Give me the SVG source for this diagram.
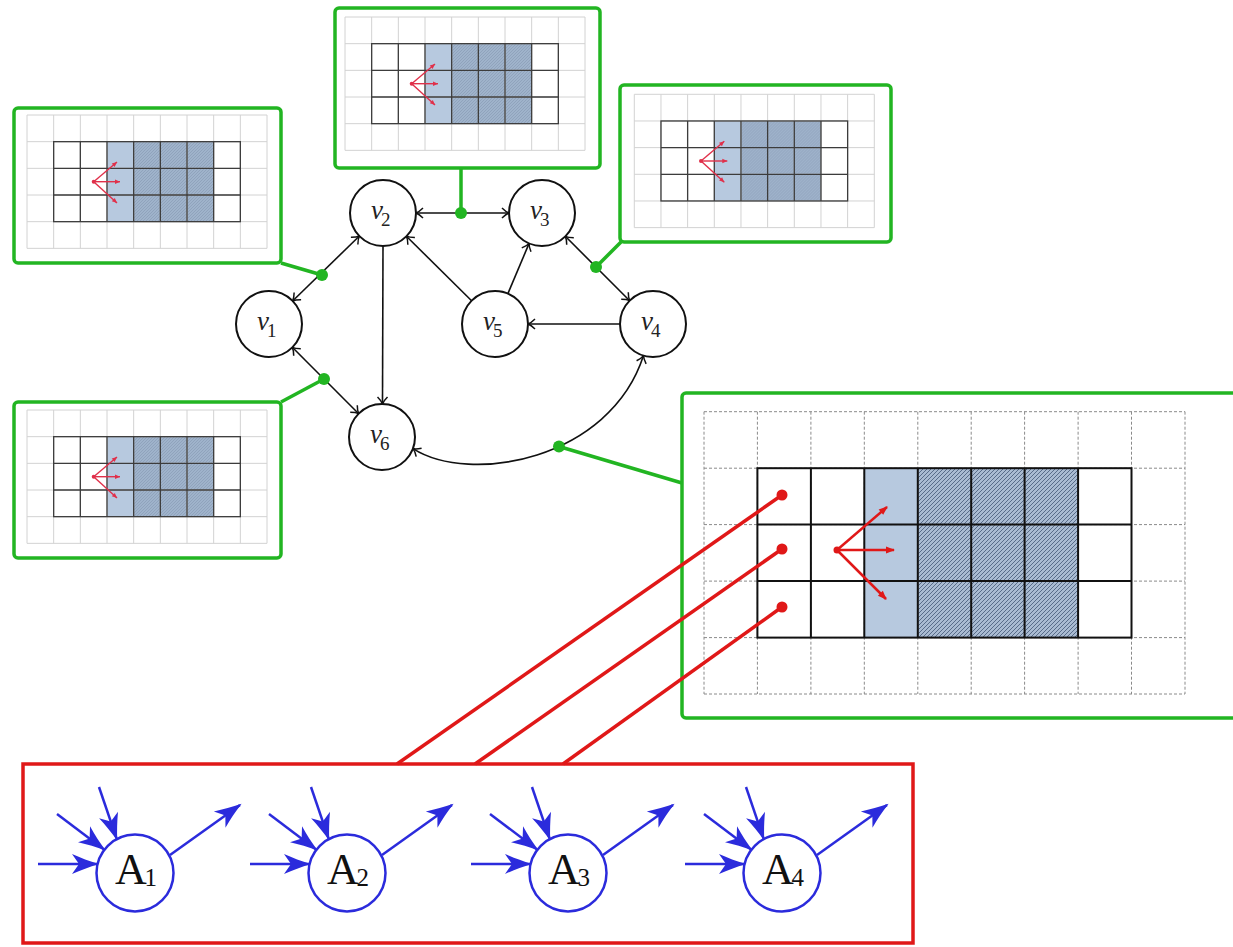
<svg xmlns="http://www.w3.org/2000/svg" xmlns:xlink="http://www.w3.org/1999/xlink" width="1233" height="947" viewBox="0 0 1233 947">
<style>
.gframe{fill:#fff;stroke:#22b522;stroke-width:3.5}
.glink{fill:none;stroke:#22b522;stroke-width:3.5}
.gdot{fill:#22b522}
.lgrid{stroke:#d2d2d2;stroke-width:1;fill:none}
.dgrid{stroke:#3c3c3c;stroke-width:1.3;fill:none}
.bgrid{stroke:#8a8a8a;stroke-width:1;stroke-dasharray:3 2;fill:none}
.bsolid{stroke:#111;stroke-width:2;fill:none}
.lblue{fill:#b7c9df}
.redl{stroke:#e01818;stroke-width:3.5;fill:none}
.redd{fill:#e01818}
.sarrow{stroke:#e0304a;stroke-width:1.4;fill:none;marker-end:url(#sr)}
.barrow{stroke:#e01818;stroke-width:2.5;fill:none;marker-end:url(#br)}
.node{fill:#fff;stroke:#111;stroke-width:2}
.edge{fill:none;stroke:#111;stroke-width:1.6}
.bi{marker-start:url(#to);marker-end:url(#to)}
.uni{marker-end:url(#to)}
.vl{font-family:"Liberation Serif",serif;font-style:italic;font-size:27px;fill:#222}
.vs{font-family:"Liberation Serif",serif;font-size:19px;fill:#222}
.acirc{fill:#fff;stroke:#2b2bdc;stroke-width:2.5}
.aedge{stroke:#2b2bdc;stroke-width:2.5;fill:none;marker-end:url(#ba)}
.al{font-family:"Liberation Serif",serif;font-size:44px;fill:#111}
.as{font-family:"Liberation Serif",serif;font-size:25px;fill:#111}
</style>
<defs>
<marker id="to" markerUnits="userSpaceOnUse" markerWidth="20" markerHeight="20" viewBox="-10 -10 20 20" refX="0" refY="0" orient="auto-start-reverse">
<path d="M-7,-5 C-4,-2 -1.5,-0.5 0,0 C-1.5,0.5 -4,2 -7,5" fill="none" stroke="#111" stroke-width="1.5"/>
</marker>
<marker id="ba" markerUnits="userSpaceOnUse" markerWidth="34" markerHeight="34" viewBox="-29 -17 34 34" refX="0" refY="0" orient="auto">
<path d="M2,0 C-8,-3 -16,-6 -25,-10 L-18,0 L-25,10 C-16,6 -8,3 2,0 Z" fill="#2b2bdc"/>
</marker>
<marker id="sr" markerUnits="userSpaceOnUse" markerWidth="10" markerHeight="10" viewBox="-8 -5 10 10" refX="0" refY="0" orient="auto">
<path d="M0,0 L-5,-2.2 L-5,2.2 Z" fill="#e0304a"/>
</marker>
<marker id="br" markerUnits="userSpaceOnUse" markerWidth="14" markerHeight="14" viewBox="-12 -7 14 14" refX="0" refY="0" orient="auto">
<path d="M1,0 L-8,-3.5 L-8,3.5 Z" fill="#e01818"/>
</marker>
<pattern id="hatch" patternUnits="userSpaceOnUse" width="4" height="4">
<rect width="4" height="4" fill="#a9bbd2"/>
<path d="M-1,1 L1,-1 M0,4 L4,0 M3,5 L5,3" stroke="#3e5270" stroke-width="0.75"/>
</pattern>
<pattern id="hatchS" patternUnits="userSpaceOnUse" width="3" height="3">
<rect width="3" height="3" fill="#9fb3cb"/>
<path d="M0,3 L3,0" stroke="#8799b2" stroke-width="0.6"/>
</pattern>
<g id="sg">
<rect class="lblue" x="80" y="26.67" width="26.67" height="80"/>
<rect fill="url(#hatchS)" x="106.67" y="26.67" width="80" height="80"/>
<path class="lgrid" d="M0,0V133.33M26.67,0V133.33M53.33,0V133.33M80,0V133.33M106.67,0V133.33M133.33,0V133.33M160,0V133.33M186.67,0V133.33M213.33,0V133.33M240,0V133.33M0,0H240M0,26.67H240M0,53.33H240M0,80H240M0,106.67H240M0,133.33H240"/>
<rect class="dgrid" x="26.67" y="26.67" width="186.67" height="80"/>
<path class="dgrid" d="M53.33,26.67V106.67M80,26.67V106.67M106.67,26.67V106.67M133.33,26.67V106.67M160,26.67V106.67M186.67,26.67V106.67M26.67,53.33H213.33M26.67,80H213.33"/>
<circle cx="66.7" cy="66.7" r="2" fill="#e0304a"/>
<path class="sarrow" d="M66.7,66.7L90,47"/>
<path class="sarrow" d="M66.7,66.7L93,66.7"/>
<path class="sarrow" d="M66.7,66.7L90,88"/>
</g>
</defs>

<g id="connectors">
<g id="graph-edges">
<path class="edge bi" d="M292.6,301 L359.4,236"/>
<path class="edge bi" d="M292.3,347.3 L358.7,413.7"/>
<path class="edge bi" d="M416,213 L509,213"/>
<path class="edge uni" d="M383,246 L382.5,404"/>
<path class="edge uni" d="M471.6,300.8 L406.4,236.2"/>
<path class="edge uni" d="M507.9,293.6 L529.1,243.4"/>
<path class="edge uni" d="M620,324 L528,324"/>
<path class="edge bi" d="M565.3,236.3 L629.7,300.7"/>
<path class="edge bi" d="M413,448.6 C470,485 610,460 643.5,355.6"/>
</g>
<g id="green-links">
<path class="glink" d="M281,263 L322,275"/>
<path class="glink" d="M461,168 L461,213"/>
<path class="glink" d="M621,242 L596,267"/>
<path class="glink" d="M281,402 L324,379"/>
<path class="glink" d="M559,446.5 L682,483"/>
<circle class="gdot" cx="322" cy="275" r="6"/>
<circle class="gdot" cx="461" cy="213" r="6"/>
<circle class="gdot" cx="596" cy="267" r="6"/>
<circle class="gdot" cx="324" cy="379" r="6"/>
<circle class="gdot" cx="559" cy="446.5" r="6"/>
</g>
</g>

<g id="inset-topleft">
<rect class="gframe" x="14" y="108" width="267" height="155" rx="4"/>
<use xlink:href="#sg" href="#sg" transform="translate(27,115)"/>
</g>
<g id="inset-top">
<rect class="gframe" x="335" y="8" width="265" height="160" rx="4"/>
<use xlink:href="#sg" href="#sg" transform="translate(345,17)"/>
</g>
<g id="inset-topright">
<rect class="gframe" x="620" y="85" width="271" height="157" rx="4"/>
<use xlink:href="#sg" href="#sg" transform="translate(634.3,94.3)"/>
</g>
<g id="inset-bottomleft">
<rect class="gframe" x="14" y="402" width="267" height="156" rx="4"/>
<use xlink:href="#sg" href="#sg" transform="translate(27,410)"/>
</g>

<g id="inset-large">
<rect class="gframe" x="682" y="393" width="570" height="325" rx="4"/>
<rect class="lblue" x="864.3" y="468.2" width="53.5" height="169.4"/>
<rect fill="url(#hatch)" x="917.8" y="468.2" width="160.3" height="169.4"/>
<path class="bgrid" d="M704,411.7V694M757.4,411.7V694M810.9,411.7V694M864.3,411.7V694M917.8,411.7V694M971.2,411.7V694M1024.6,411.7V694M1078.1,411.7V694M1131.5,411.7V694M1185,411.7V694M704,411.7H1185M704,468.2H1185M704,524.6H1185M704,581.1H1185M704,637.6H1185M704,694H1185"/>
<rect class="bsolid" x="757.4" y="468.2" width="374.1" height="169.4"/>
<path class="bsolid" d="M810.9,468.2V637.6M864.3,468.2V637.6M917.8,468.2V637.6M971.2,468.2V637.6M1024.6,468.2V637.6M1078.1,468.2V637.6M757.4,524.6H1131.5M757.4,581.1H1131.5"/>
<circle cx="837" cy="550" r="3.5" fill="#e01818"/>
<path class="barrow" d="M837,550 L887,507"/>
<path class="barrow" d="M837,550 L894,550"/>
<path class="barrow" d="M837,550 L886,599"/>
</g>

<g id="graph-nodes">
<g id="v1"><circle class="node" cx="269" cy="324" r="33"/><text class="vl" x="257" y="330">v</text><text class="vs" x="267" y="337">1</text></g>
<g id="v2"><circle class="node" cx="383" cy="213" r="33"/><text class="vl" x="371" y="219">v</text><text class="vs" x="381" y="226">2</text></g>
<g id="v3"><circle class="node" cx="542" cy="213" r="33"/><text class="vl" x="530" y="219">v</text><text class="vs" x="540" y="226">3</text></g>
<g id="v4"><circle class="node" cx="653" cy="324" r="33"/><text class="vl" x="641" y="330">v</text><text class="vs" x="651" y="337">4</text></g>
<g id="v5"><circle class="node" cx="495" cy="324" r="33"/><text class="vl" x="483" y="330">v</text><text class="vs" x="493" y="337">5</text></g>
<g id="v6"><circle class="node" cx="382" cy="437" r="33"/><text class="vl" x="370" y="443">v</text><text class="vs" x="380" y="450">6</text></g>
</g>

<g id="red-links">
<path class="redl" d="M397,764 L782,495"/>
<path class="redl" d="M475,764 L782,549"/>
<path class="redl" d="M563,764 L782,607"/>
<circle class="redd" cx="782" cy="495" r="5.5"/>
<circle class="redd" cx="782" cy="549" r="5.5"/>
<circle class="redd" cx="782" cy="607" r="5.5"/>
</g>

<g id="agents">
<rect x="23" y="764" width="890" height="179" fill="none" stroke="#e01818" stroke-width="3.5"/>
<g id="A1" transform="translate(135,873)">
<path class="aedge" d="M-97,-9 L-38,-9"/>
<path class="aedge" d="M-78,-59 L-31,-23.6"/>
<path class="aedge" d="M-36,-86 L-18.4,-34.4"/>
<path class="aedge" d="M35,-18 L105,-68"/>
<circle class="acirc" cx="0" cy="0" r="38.5"/>
<text class="al" x="-20" y="11">A</text><text class="as" x="9.5" y="13">1</text>
</g>
<g id="A2" transform="translate(347,873)">
<path class="aedge" d="M-97,-9 L-38,-9"/>
<path class="aedge" d="M-78,-59 L-31,-23.6"/>
<path class="aedge" d="M-36,-86 L-18.4,-34.4"/>
<path class="aedge" d="M35,-18 L105,-68"/>
<circle class="acirc" cx="0" cy="0" r="38.5"/>
<text class="al" x="-20" y="11">A</text><text class="as" x="9.5" y="13">2</text>
</g>
<g id="A3" transform="translate(568,873)">
<path class="aedge" d="M-97,-9 L-38,-9"/>
<path class="aedge" d="M-78,-59 L-31,-23.6"/>
<path class="aedge" d="M-36,-86 L-18.4,-34.4"/>
<path class="aedge" d="M35,-18 L105,-68"/>
<circle class="acirc" cx="0" cy="0" r="38.5"/>
<text class="al" x="-20" y="11">A</text><text class="as" x="9.5" y="13">3</text>
</g>
<g id="A4" transform="translate(782,873)">
<path class="aedge" d="M-97,-9 L-38,-9"/>
<path class="aedge" d="M-78,-59 L-31,-23.6"/>
<path class="aedge" d="M-36,-86 L-18.4,-34.4"/>
<path class="aedge" d="M35,-18 L105,-68"/>
<circle class="acirc" cx="0" cy="0" r="38.5"/>
<text class="al" x="-20" y="11">A</text><text class="as" x="9.5" y="13">4</text>
</g>
</g>
</svg>
